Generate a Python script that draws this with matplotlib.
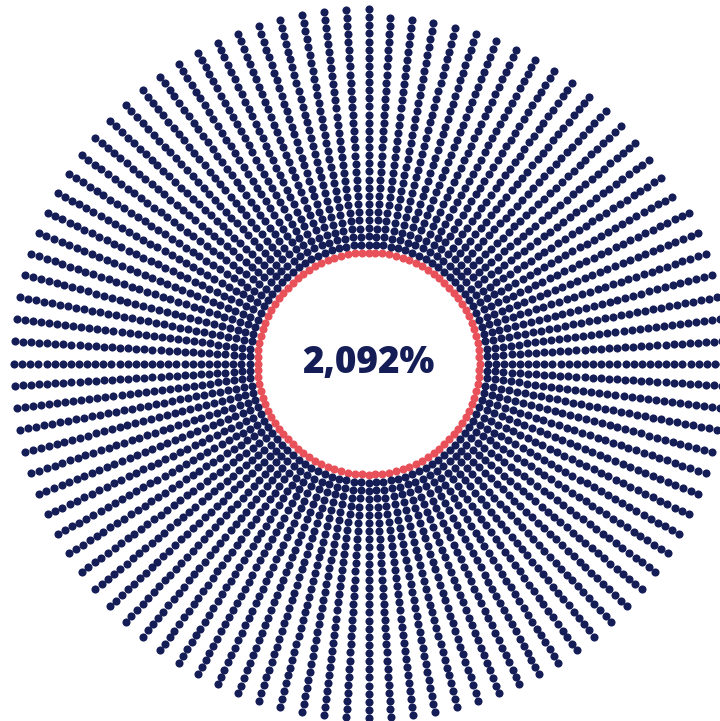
import numpy as np
import matplotlib.pyplot as plt


# Valor exibido no centro e composicao dos raios de pontos.
VALOR_TEXTO = "2,092%"
N_RAIOS = 100
PONTOS_ANEL_BASE = 100
# Quantidade de pontos em cada raio, em sentido horario a partir do topo.
PONTOS_POR_RAIO = [30] + [29] * 17 + [30] * 82

AZUL = "#151d57"
VERMELHO = "#e8515a"

CENTRO = (368.5, 363.5)
RAIO_BASE = 111.0
RAIO_INICIAL = 119.0
PASSO = 8.12
TAMANHO_PONTO = 34


def desenhar(ax):
    cx, cy = CENTRO

    # Anel vermelho de referencia (100%).
    ang = np.pi / 2 - np.arange(PONTOS_ANEL_BASE) * 2 * np.pi / PONTOS_ANEL_BASE
    ax.scatter(cx + RAIO_BASE * np.cos(ang), cy - RAIO_BASE * np.sin(ang),
               s=TAMANHO_PONTO, color=VERMELHO, linewidths=0)

    # Raios azuis.
    xs, ys = [], []
    for i, n in enumerate(PONTOS_POR_RAIO):
        a = np.pi / 2 - i * 2 * np.pi / N_RAIOS
        r = RAIO_INICIAL + np.arange(n) * PASSO
        xs.append(cx + r * np.cos(a))
        ys.append(cy - r * np.sin(a))
    ax.scatter(np.concatenate(xs), np.concatenate(ys),
               s=TAMANHO_PONTO, color=AZUL, linewidths=0)

    ax.text(cx, 373.3, VALOR_TEXTO, ha="center", va="baseline",
            fontsize=26.5, fontweight=800, family="Open Sans", color=AZUL)


def main():
    fig = plt.figure(figsize=(7.2, 7.21), dpi=100)
    ax = fig.add_axes([0, 0, 1, 1])
    ax.set_xlim(0, 720)
    ax.set_ylim(721, 0)
    ax.axis("off")
    desenhar(ax)
    fig.savefig("out.png", dpi=100)
    plt.close(fig)


if __name__ == "__main__":
    main()
